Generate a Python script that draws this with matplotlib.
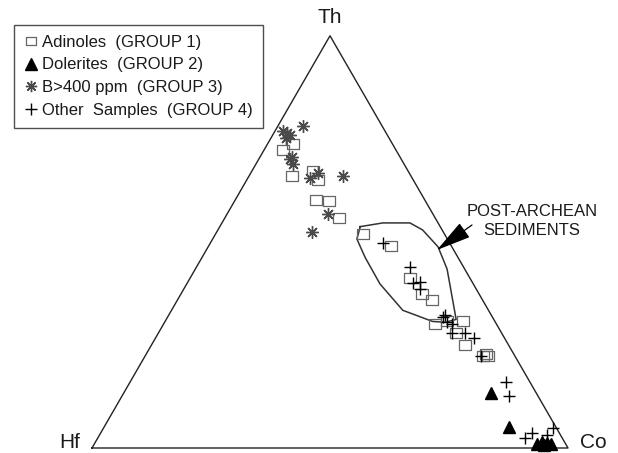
import matplotlib
matplotlib.use('Agg')
import matplotlib.pyplot as plt
import numpy as np
from matplotlib.path import Path

plt.rcParams['font.family'] = ['Liberation Sans', 'DejaVu Sans']

# Th-Hf-Co compositions (%)
# group 1 - adinoles
th_g1 = [73.7, 72.4, 66.1, 67.1, 65.1, 60.2, 60.0, 55.9, 52.0, 49.0, 41.2, 37.3, 35.9, 30.0, 30.7, 30.7, 28.0, 25.1, 22.4, 22.2, 22.7]
hf_g1 = [20.9, 23.7, 24.9, 20.0, 20.0, 22.8, 20.2, 20.1, 17.1, 12.7, 12.6, 12.1, 10.6, 12.9, 10.1, 6.8, 9.5, 9.1, 6.7, 5.7, 5.8]
co_g1 = [5.4, 3.9, 9.0, 12.9, 14.9, 17.0, 19.8, 24.0, 30.9, 38.3, 46.2, 50.6, 53.5, 57.1, 59.2, 62.5, 62.5, 65.8, 70.9, 72.1, 71.5]

# group 2 - dolerites
th_g2 = [13.4, 5.1, 1.0, 1.5, 1.2, 1.0, 0.7]
hf_g2 = [9.5, 9.9, 6.0, 4.7, 3.8, 3.1, 4.7]
co_g2 = [77.1, 85.0, 93.0, 93.8, 95.0, 95.9, 94.6]

# group 3 - B > 400 ppm
th_g3 = [78.0, 76.8, 75.9, 75.1, 76.3, 70.7, 69.0, 70.2, 65.4, 66.6, 65.9, 56.8, 52.4]
hf_g3 = [16.7, 21.5, 20.4, 21.7, 20.9, 22.7, 23.3, 23.3, 21.5, 19.2, 14.3, 22.0, 27.6]
co_g3 = [5.3, 1.7, 3.7, 3.2, 2.8, 6.6, 7.7, 6.5, 13.1, 14.2, 19.8, 21.2, 20.0]

# group 4 - other samples
th_g4 = [49.8, 43.9, 40.0, 40.2, 38.5, 31.7, 30.5, 30.0, 28.0, 28.0, 26.6, 22.4, 15.9, 12.7, 2.4, 3.7, 3.2, 4.9, 32.2]
hf_g4 = [14.0, 11.3, 12.6, 11.0, 11.9, 10.5, 10.1, 9.4, 10.4, 7.6, 6.4, 7.1, 5.0, 6.0, 7.8, 5.7, 2.8, 0.7, 9.7]
co_g4 = [36.2, 44.8, 47.4, 48.8, 49.6, 57.8, 59.4, 60.6, 61.6, 64.4, 67.0, 70.5, 79.1, 81.3, 89.8, 90.6, 94.0, 94.4, 58.1]

# post-archean sediments field
field_th = [53.7, 54.6, 54.6, 52.9, 48.8, 43.4, 37.3, 31.2, 30.5, 30.7, 33.4, 39.8, 46.3, 50.7]
field_hf = [16.8, 11.6, 5.9, 4.1, 2.9, 3.7, 5.8, 7.9, 10.5, 13.1, 18.0, 19.6, 19.5, 19.0]
field_co = [29.5, 33.8, 39.5, 43.0, 48.3, 52.9, 56.9, 60.9, 59.0, 56.2, 48.6, 40.6, 34.2, 30.3]

labels = ['Adinoles  (GROUP 1)', 'Dolerites  (GROUP 2)',
          'B>400 ppm  (GROUP 3)', 'Other  Samples  (GROUP 4)']


def tern(th, hf, co):
    th = np.asarray(th, float)
    hf = np.asarray(hf, float)
    co = np.asarray(co, float)
    tot = th + hf + co
    x = (co + th / 2) / tot
    y = np.sqrt(3) / 2 * th / tot
    return x, y


fig = plt.figure(figsize=(6.18, 4.53), dpi=100)
ax = fig.add_axes([0, 0, 1, 1])
ax.set_xlim(-92 / 476, (618 - 92) / 476)
ax.set_ylim(-5 / 476, 448 / 476)
ax.axis('off')

# triangle frame
h = np.sqrt(3) / 2
ax.plot([0, 1, 0.5, 0], [0, 0, h, 0], color='#222222', lw=1.0, zorder=1)

# sediment field
fx, fy = tern(field_th, field_hf, field_co)
ax.plot(np.append(fx, fx[0]), np.append(fy, fy[0]), color='#333333', lw=1.1, zorder=1)

rect = Path([(-1.25, -1), (1.25, -1), (1.25, 1), (-1.25, 1), (-1.25, -1)],
            [Path.MOVETO, Path.LINETO, Path.LINETO, Path.LINETO, Path.CLOSEPOLY])

x1, y1 = tern(th_g1, hf_g1, co_g1)
ax.plot(x1, y1, ls='none', marker=rect, ms=8.5, mfc='none', mec='#666666', mew=0.9,
        label=labels[0], zorder=2)
x2, y2 = tern(th_g2, hf_g2, co_g2)
ax.plot(x2, y2, ls='none', marker='^', ms=9, color='black', label=labels[1], zorder=3)
x3, y3 = tern(th_g3, hf_g3, co_g3)
ax.plot(x3, y3, ls='none', marker=(8, 2, 0), ms=9, mec='#4a4a4a', mew=1.0,
        label=labels[2], zorder=3)
x4, y4 = tern(th_g4, hf_g4, co_g4)
ax.plot(x4, y4, ls='none', marker='+', ms=9, mec='black', mew=1.0,
        label=labels[3], zorder=3)

# vertex labels
ax.text(0.5, 0.905, 'Th', fontsize=15, ha='center', va='center', color='#1a1a1a')
ax.text(-0.046, 0.012, 'Hf', fontsize=15, ha='center', va='center', color='#1a1a1a')
ax.text(1.0525, 0.012, 'Co', fontsize=15, ha='center', va='center', color='#1a1a1a')

# field label and arrow
ax.text(0.9244, 0.477, 'POST-ARCHEAN\nSEDIMENTS', fontsize=12, ha='center', va='center',
        linespacing=1.3, color='#1a1a1a')
ax.annotate('', xy=(0.7248, 0.4160), xytext=(0.7983, 0.4685),
            arrowprops=dict(arrowstyle='-|>,head_length=2.2,head_width=0.55',
                            mutation_scale=10, color='black', lw=0.9,
                            shrinkA=0, shrinkB=0))

leg = ax.legend(loc='upper left', bbox_to_anchor=(14 / 618, 1 - 25 / 453),
                bbox_transform=fig.transFigure, borderaxespad=0,
                fontsize=12, frameon=True, fancybox=False, edgecolor='#222222',
                handlelength=0.8, handletextpad=0.3, borderpad=0.6,
                labelspacing=0.45, numpoints=1, markerscale=0.9)
leg.get_frame().set_linewidth(1.0)
for t in leg.get_texts():
    t.set_color('#1a1a1a')

fig.savefig('out.png', dpi=100)
